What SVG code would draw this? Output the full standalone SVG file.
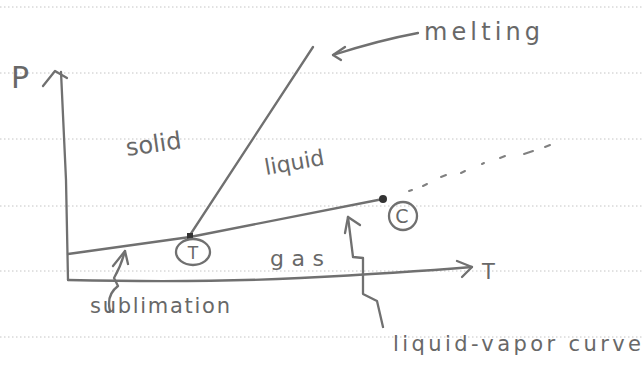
<svg xmlns="http://www.w3.org/2000/svg" width="644" height="369" viewBox="0 0 644 369">
<style>
.rule{stroke:#c4c4c4;stroke-width:1;stroke-dasharray:1.5 2.5}
.ink{fill:none;stroke:#707070;stroke-width:2.3;stroke-linecap:round;stroke-linejoin:round}
.dash{fill:none;stroke:#808080;stroke-width:2;stroke-linecap:round}
.txt{font-family:"DejaVu Sans",sans-serif;fill:#686868}
</style>
<rect width="644" height="369" fill="#ffffff"/>
<g id="rules">
<line class="rule" x1="0" y1="7" x2="644" y2="7"/>
<line class="rule" x1="0" y1="73" x2="644" y2="73"/>
<line class="rule" x1="0" y1="139" x2="644" y2="139"/>
<line class="rule" x1="0" y1="206" x2="644" y2="206"/>
<line class="rule" x1="0" y1="271" x2="644" y2="271"/>
<line class="rule" x1="0" y1="337" x2="644" y2="337"/>
</g>
<g id="axis-p">
<path class="ink" d="M68,280 L66,180 L61,72"/>
<path class="ink" d="M43,86 L55,71 L67,78"/>
<text class="txt" x="11" y="88" font-size="30">P</text>
</g>
<g id="axis-t">
<path class="ink" d="M68,280 Q200,283 300,278 T472,267"/>
<path class="ink" d="M457,261 L472,267 L462,277"/>
<text class="txt" x="482" y="279" font-size="21">T</text>
</g>
<g id="connectors">
<path class="ink" d="M68,254 L190,237"/>
<path class="ink" d="M190,237 L383,199"/>
<path class="ink" d="M190,235 L313,47"/>
<g id="supercritical">
<line class="dash" x1="409" y1="191" x2="412" y2="190"/>
<line class="dash" x1="423" y1="186" x2="427" y2="184"/>
<line class="dash" x1="441" y1="177" x2="446" y2="175"/>
<line class="dash" x1="461" y1="173" x2="465" y2="171"/>
<line class="dash" x1="482" y1="164" x2="484" y2="163"/>
<line class="dash" x1="500" y1="158" x2="505" y2="156"/>
<line class="dash" x1="524" y1="154" x2="533" y2="151"/>
<line class="dash" x1="545" y1="147" x2="550" y2="145"/>
</g>
<g id="melting-arrow">
<path class="ink" d="M418,33 Q380,40 333,55"/>
<path class="ink" d="M345,47 L333,55 L341,60"/>
</g>
<g id="sublimation-arrow">
<path class="ink" d="M110,311 Q106,295 118,286 L114,278 Q121,266 125,251"/>
<path class="ink" d="M113,266 L125,251 L128,264"/>
</g>
<g id="lv-arrow">
<path class="ink" d="M383,327 L377,301 L363,294 L363,258 L353,257 L348,217"/>
<path class="ink" d="M345,233 L348,217 L360,225"/>
</g>
</g>
<g id="triple-point">
<rect x="187" y="233" width="6" height="6" fill="#333"/>
<ellipse class="ink" cx="193" cy="252" rx="17" ry="13" stroke-width="1.8"/>
<text class="txt" x="193" y="259" font-size="17" text-anchor="middle">T</text>
</g>
<g id="critical-point">
<circle cx="383" cy="199" r="4" fill="#333"/>
<ellipse class="ink" cx="403" cy="216" rx="14" ry="14" stroke-width="1.8"/>
<text class="txt" x="402" y="223" font-size="19" text-anchor="middle">C</text>
</g>
<g id="label-solid">
<text class="txt" x="127" y="156" font-size="24" transform="rotate(-8 127 156)">solid</text>
</g>
<g id="label-liquid">
<text class="txt" x="266" y="175" font-size="22" transform="rotate(-10 266 175)">liquid</text>
</g>
<g id="label-gas">
<text class="txt" x="270" y="266" font-size="22" textLength="54">gas</text>
</g>
<g id="label-melting">
<text class="txt" x="424" y="40" font-size="24" textLength="116">melting</text>
</g>
<g id="label-sublimation">
<text class="txt" x="90" y="313" font-size="21" textLength="140">sublimation</text>
</g>
<g id="label-lv">
<text class="txt" x="393" y="351" font-size="21" textLength="248">liquid-vapor curve</text>
</g>
</svg>
